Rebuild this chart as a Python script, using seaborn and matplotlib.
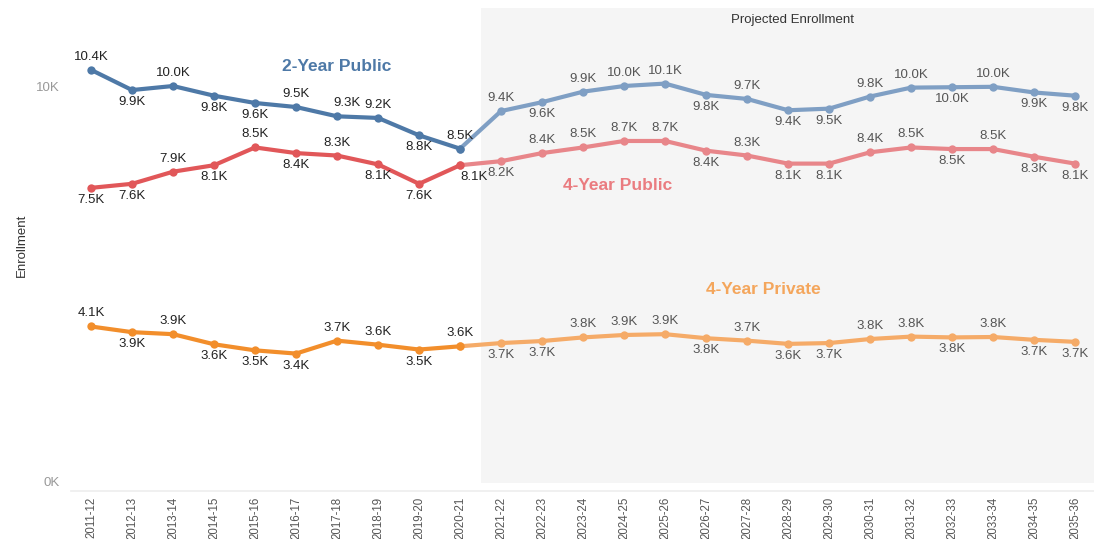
import matplotlib
matplotlib.use("Agg")
import matplotlib.pyplot as plt
import matplotlib.transforms as mtransforms
import seaborn as sns
import pandas as pd

years = ["2011-12", "2012-13", "2013-14", "2014-15", "2015-16", "2016-17", "2017-18",
         "2018-19", "2019-20", "2020-21", "2021-22", "2022-23", "2023-24", "2024-25",
         "2025-26", "2026-27", "2027-28", "2028-29", "2029-30", "2030-31", "2031-32",
         "2032-33", "2033-34", "2034-35", "2035-36"]

# values in thousands (historical 2011-12..2020-21, projected 2021-22..2035-36)
two_year_public = [10.42, 9.92, 10.02, 9.78, 9.6, 9.5, 9.27, 9.23, 8.8, 8.47,
                   9.4, 9.62, 9.88, 10.02, 10.08, 9.8, 9.7, 9.42, 9.46, 9.76, 9.98, 9.99, 10.0, 9.86, 9.78]
four_year_public = [7.5, 7.6, 7.9, 8.06, 8.5, 8.36, 8.3, 8.08, 7.6, 8.06,
                    8.16, 8.36, 8.5, 8.66, 8.66, 8.42, 8.3, 8.1, 8.1, 8.38, 8.5, 8.46, 8.46, 8.27, 8.1]
four_year_private = [4.07, 3.93, 3.88, 3.63, 3.48, 3.4, 3.72, 3.62, 3.5, 3.58,
                     3.66, 3.71, 3.8, 3.86, 3.88, 3.78, 3.72, 3.64, 3.66, 3.76, 3.82, 3.8, 3.81, 3.74, 3.69]
series_names = ["2-Year Public", "4-Year Public", "4-Year Private"]
n_hist = 10

# label placement: 'a' above, 'b' below
pos_2yp = ['a','b','a','b','b','a','a','a','b','a',
           'a','b','a','a','a','b','a','b','b','a','a','b','a','b','b']
pos_4yp = ['b','b','a','b','a','b','a','b','b','b',
           'b','a','a','a','a','b','a','b','b','a','a','b','a','b','b']
pos_4ypr = ['a','b','a','b','b','b','a','a','b','a',
            'b','b','a','a','a','b','a','b','b','a','a','b','a','b','b']
dx_2yp = {6: 10}
dx_4yp = {9: 14}

dark = {"2-Year Public": "#4e79a7", "4-Year Public": "#e15759", "4-Year Private": "#f28e2b"}
light = {"2-Year Public": "#7f9fc4", "4-Year Public": "#e8868a", "4-Year Private": "#f5ab68"}
name_col = {"2-Year Public": "#4e79a7", "4-Year Public": "#ea7c80", "4-Year Private": "#f4a65c"}

rows = []
for name, vals in zip(series_names, [two_year_public, four_year_public, four_year_private]):
    for i, v in enumerate(vals):
        rows.append({"year": years[i], "x": i, "series": name, "value": v,
                     "hist": i < n_hist, "proj": i >= n_hist - 1})
df = pd.DataFrame(rows)

sns.set_theme(style="white")
plt.rcParams['font.family'] = ['Liberation Sans', 'DejaVu Sans']

fig = plt.figure(figsize=(10.94, 5.39), dpi=100)
ax = fig.add_axes([70.5 / 1094, (539 - 491) / 539, (1094 - 70.5) / 1094, (491 - 8) / 539])

ax.set_xlim(-0.5, 24.46)
ax.set_ylim(0, 11.95)
ax.axvspan(n_hist - 0.5, 24.46, ymin=0.017, ymax=1, color="#f5f5f5", zorder=0, lw=0)

proj = df[df["proj"]]
sns.lineplot(data=proj, x="x", y="value", hue="series", palette=light, ax=ax,
             marker="o", markersize=6, markeredgewidth=0, linewidth=3, legend=False,
             sort=True, zorder=2)
hist = df[df["hist"]]
sns.lineplot(data=hist, x="x", y="value", hue="series", palette=dark, ax=ax,
             marker="o", markersize=6, markeredgewidth=0, linewidth=3, legend=False,
             sort=True, zorder=3)

for name, vals, pos, dxs in zip(series_names,
                                [two_year_public, four_year_public, four_year_private],
                                [pos_2yp, pos_4yp, pos_4ypr],
                                [dx_2yp, dx_4yp, {}]):
    for i, v in enumerate(vals):
        dy = 13 if pos[i] == 'a' else -12
        col = "#222222" if i < n_hist else "#555555"
        ax.annotate(f"{v:.1f}K", (i, v), xytext=(dxs.get(i, 0), dy), textcoords="offset pixels",
                    ha="center", va="center", fontsize=9.5, color=col, zorder=5,
                    annotation_clip=False)

ax.text(6.0, 10.5, "2-Year Public", color=name_col["2-Year Public"], fontsize=12.5,
        fontweight="bold", ha="center", va="center")
ax.text(12.85, 7.57, "4-Year Public", color=name_col["4-Year Public"], fontsize=12.5,
        fontweight="bold", ha="center", va="center")
ax.text(16.4, 4.98, "4-Year Private", color=name_col["4-Year Private"], fontsize=12.5,
        fontweight="bold", ha="center", va="center")
ax.text(17.1, 11.66, "Projected Enrollment", color="#333333", fontsize=9.5,
        ha="center", va="center")

ax.set_xticks(range(len(years)))
ax.set_xticklabels(years, rotation=90, fontsize=8.3, color="#555555", va="top")
ax.set_yticks([0, 10])
ax.set_yticklabels(["0K", "10K"], fontsize=9.5, color="#999999")
ax.tick_params(axis="x", length=3, color="#eeeeee", pad=1)
ax.tick_params(axis="y", length=0, pad=8)
ylabs = ax.get_yticklabels()
ylabs[0].set_transform(ylabs[0].get_transform() + mtransforms.Affine2D().translate(0, 9))
ax.set_xlabel("")
ax.set_ylabel("")
fig.text(22 / 1094, 1 - 245 / 539, "Enrollment", rotation=90, fontsize=9.5, color="#333333",
         ha="center", va="center")

for s in ["top", "right", "left"]:
    ax.spines[s].set_visible(False)
ax.spines["bottom"].set_color("#eeeeee")
ax.grid(False)

fig.savefig("out.png", dpi=100)
